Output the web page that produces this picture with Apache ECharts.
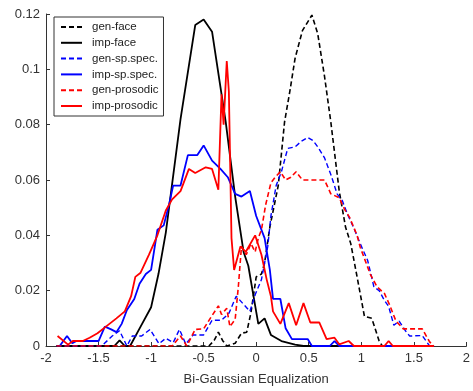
<!DOCTYPE html>
<html>
<head>
<meta charset="utf-8">
<script src="https://cdn.jsdelivr.net/npm/echarts@6/dist/echarts.min.js"></script>
<style>
html, body { margin: 0; padding: 0; background: #fff; }
#chart { width: 473px; height: 391px; }
</style>
</head>
<body>
<div id="chart"></div>
<script>
// values
var xTicks = [-2, -1.5, -1, -0.5, 0, 0.5, 1, 1.5, 2];
var yTicks = [0, 0.02, 0.04, 0.06, 0.08, 0.1, 0.12];

var genFaceX = [-1.9, -0.45, -0.4, -0.36, -0.32, -0.28, -0.2, -0.14, -0.09, -0.05, 0.0, 0.05, 0.08, 0.13, 0.21, 0.27, 0.32, 0.37, 0.44, 0.53, 0.585, 0.65, 0.71, 0.79, 0.85, 0.9, 0.96, 1.03, 1.1, 1.17, 1.2, 1.69];
var genFaceY = [0, 0, 0.002, 0.005, 0.002, 0, 0.001, 0.0046, 0.005, 0.012, 0.025, 0.026, 0.030, 0.043, 0.058, 0.081, 0.092, 0.104, 0.114, 0.1196, 0.113, 0.0975, 0.081, 0.056, 0.043, 0.037, 0.025, 0.0107, 0.010, 0.0018, 0, 0];

var impFaceX = [-1.9, -1.35, -1.3, -1.25, -1.2, -1.1, -1.0, -0.93, -0.86, -0.72, -0.58, -0.5, -0.42, -0.29, -0.2, -0.14, -0.12, -0.075, -0.03, 0.02, 0.08, 0.14, 0.24, 0.37, 0.45, 1.69];
var impFaceY = [0, 0, 0.002, 0, 0, 0.007, 0.014, 0.026, 0.041, 0.082, 0.116, 0.118, 0.1136, 0.081, 0.054, 0.039, 0.034, 0.029, 0.019, 0.008, 0.010, 0.004, 0.0018, 0.0005, 0, 0];

var genSpecX = [-1.9, -1.47, -1.37, -1.3, -1.23, -1.18, -1.09, -1.01, -0.925, -0.86, -0.79, -0.73, -0.67, -0.6, -0.5, -0.42, -0.33, -0.26, -0.19, -0.13, -0.06, -0.01, 0.05, 0.11, 0.14, 0.19, 0.24, 0.3, 0.37, 0.43, 0.49, 0.54, 0.585, 0.65, 0.71, 0.77, 0.82, 0.87, 0.93, 0.99, 1.06, 1.12, 1.17, 1.22, 1.26, 1.31, 1.36, 1.42, 1.46, 1.58, 1.65, 1.69];
var genSpecY = [0, 0, 0.0036, 0.0055, 0, 0.0036, 0.0036, 0.006, 0.0008, 0.0028, 0.0012, 0.006, 0.0007, 0.004, 0.004, 0.0093, 0.0093, 0.0118, 0.018, 0.0155, 0.0125, 0.0185, 0.024, 0.036, 0.047, 0.058, 0.063, 0.0714, 0.072, 0.074, 0.0754, 0.0743, 0.072, 0.068, 0.062, 0.055, 0.0525, 0.0475, 0.0425, 0.037, 0.031, 0.0214, 0.020, 0.0165, 0.0143, 0.0075, 0.009, 0.0055, 0.0036, 0.0038, 0, 0];

var impSpecX = [-1.87, -1.8, -1.75, -1.71, -1.5, -1.44, -1.38, -1.33, -1.28, -1.23, -1.16, -1.11, -1.05, -1.0, -0.94, -0.88, -0.83, -0.79, -0.72, -0.65, -0.56, -0.5, -0.42, -0.34, -0.27, -0.2, -0.14, -0.06, 0.0, 0.08, 0.13, 0.16, 0.23, 0.28, 0.34, 0.49, 0.53, 0.7, 0.745, 0.79, 1.69];
var impSpecY = [0, 0.0036, 0.001, 0.0018, 0.0018, 0.007, 0.006, 0.005, 0.008, 0.013, 0.017, 0.0225, 0.026, 0.0275, 0.042, 0.0436, 0.051, 0.058, 0.058, 0.069, 0.069, 0.0725, 0.067, 0.064, 0.061, 0.055, 0.054, 0.056, 0.047, 0.039, 0.0275, 0.017, 0.017, 0.0064, 0.0025, 0.0025, 0, 0, 0.0018, 0, 0];

var genProsX = [-1.9, -0.8, -0.72, -0.66, -0.58, -0.5, -0.42, -0.36, -0.33, -0.28, -0.25, -0.2, -0.17, -0.14, -0.095, -0.05, -0.01, 0.02, 0.05, 0.09, 0.14, 0.18, 0.23, 0.28, 0.33, 0.38, 0.44, 0.65, 0.71, 0.79, 0.84, 0.89, 0.96, 0.99, 1.085, 1.15, 1.22, 1.27, 1.33, 1.4, 1.53, 1.58, 1.65, 1.69];
var genProsY = [0, 0, 0.0036, 0, 0.006, 0.0062, 0.011, 0.0145, 0.0114, 0.0136, 0.007, 0.0096, 0.0214, 0.036, 0.033, 0.037, 0.034, 0.039, 0.042, 0.051, 0.059, 0.061, 0.063, 0.060, 0.061, 0.063, 0.060, 0.060, 0.055, 0.0536, 0.0495, 0.0464, 0.040, 0.0357, 0.026, 0.0214, 0.019, 0.0148, 0.009, 0.0062, 0.0062, 0.0062, 0.0015, 0];

var impProsX = [-1.89, -1.79, -1.745, -1.65, -1.585, -1.51, -1.43, -1.33, -1.25, -1.19, -1.15, -1.1, -1.02, -0.94, -0.86, -0.8, -0.72, -0.64, -0.58, -0.48, -0.42, -0.36, -0.33, -0.31, -0.28, -0.26, -0.235, -0.21, -0.15, -0.1, -0.01, 0.05, 0.1, 0.14, 0.16, 0.23, 0.31, 0.38, 0.45, 0.515, 0.6, 0.67, 0.745, 0.79, 0.88, 0.93, 1.22, 1.26, 1.3, 1.69];
var impProsY = [0.0036, 0.0005, 0.0018, 0.0018, 0.003, 0.0046, 0.007, 0.010, 0.0125, 0.018, 0.025, 0.0265, 0.033, 0.040, 0.049, 0.053, 0.056, 0.064, 0.0625, 0.0646, 0.064, 0.0565, 0.091, 0.080, 0.103, 0.092, 0.039, 0.0275, 0.036, 0.034, 0.040, 0.033, 0.024, 0.018, 0.0125, 0.008, 0.0155, 0.0075, 0.0155, 0.0085, 0.0085, 0.0025, 0.003, 0.0006, 0.0018, 0, 0, 0.0018, 0, 0];

function pairs(xs, ys) {
    return xs.map(function (x, i) { return [x, ys[i]]; });
}

function line(name, xs, ys, color, dashed, width) {
    return {
        name: name,
        type: 'line',
        data: pairs(xs, ys),
        symbol: 'none',
        animation: false,
        lineStyle: {
            color: color,
            width: width,
            type: dashed ? [5, 3] : 'solid',
        },
        itemStyle: { color: color },
    };
}

var font = 'Liberation Sans, Arial, sans-serif';
var chart = echarts.init(document.getElementById('chart'));
chart.setOption({
    backgroundColor: '#fff',
    grid: { left: 46, top: 14, right: 3, bottom: 41 },
    legend: {
        orient: 'vertical',
        left: 54,
        top: 17,
        padding: [4, 5, 4, 6],
        itemWidth: 21,
        itemHeight: 12,
        itemGap: 3.8,
        borderColor: '#333',
        borderWidth: 1,
        itemStyle: { opacity: 0 },
        textStyle: { fontFamily: font, fontSize: 11.5, color: '#222', padding: [0, 0, 0, 5] },
        data: ['gen-face', 'imp-face', 'gen-sp.spec.', 'imp-sp.spec.', 'gen-prosodic', 'imp-prosodic'],
    },
    xAxis: {
        type: 'value',
        min: -2,
        max: 2,
        interval: 0.5,
        name: 'Bi-Gaussian Equalization',
        nameLocation: 'middle',
        nameGap: 27,
        nameTextStyle: { fontFamily: font, fontSize: 13, color: '#333' },
        axisLine: { onZero: false, lineStyle: { color: '#333' } },
        axisTick: { inside: true, length: 4, lineStyle: { color: '#333' } },
        axisLabel: {
            fontFamily: font, fontSize: 13, color: '#333', margin: 6,
            formatter: function (v) { return xTicks.indexOf(v) >= 0 ? String(v) : ''; },
        },
        splitLine: { show: false },
    },
    yAxis: {
        type: 'value',
        min: 0,
        max: 0.12,
        interval: 0.02,
        axisLine: { show: true, onZero: false, lineStyle: { color: '#333' } },
        axisTick: { show: true, inside: true, length: 4, lineStyle: { color: '#333' } },
        axisLabel: {
            fontFamily: font, fontSize: 13, color: '#333', margin: 6,
            formatter: function (v) {
                var t = yTicks.find(function (k) { return Math.abs(k - v) < 1e-9; });
                return t === undefined ? '' : String(t);
            },
        },
        splitLine: { show: false },
    },
    series: [
        line('gen-face', genFaceX, genFaceY, '#000', true, 1.6),
        line('imp-face', impFaceX, impFaceY, '#000', false, 1.8),
        line('gen-sp.spec.', genSpecX, genSpecY, '#0000ff', true, 1.4),
        line('imp-sp.spec.', impSpecX, impSpecY, '#0000ff', false, 1.8),
        line('gen-prosodic', genProsX, genProsY, '#ff0000', true, 1.6),
        line('imp-prosodic', impProsX, impProsY, '#ff0000', false, 1.8),
    ],
});
</script>
</body>
</html>
